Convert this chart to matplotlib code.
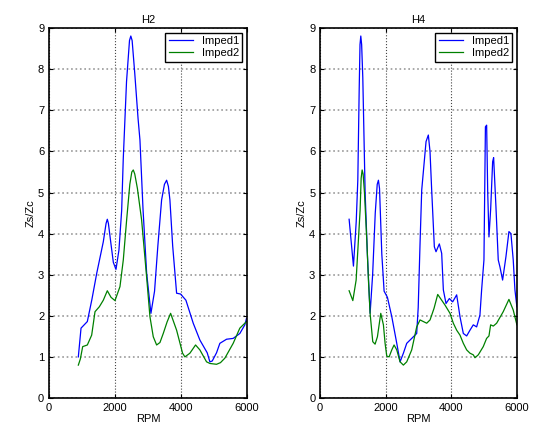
import numpy as np
import matplotlib.pyplot as plt

plt.rcParams['font.family'] = ['Liberation Sans', 'DejaVu Sans']

# H2 harmonic
h2_rpm1 = [888, 970, 1161, 1300, 1445, 1645, 1730, 1767, 1800, 1870, 1950, 2030, 2120, 2203,
           2250, 2350, 2440, 2480, 2520, 2600, 2700, 2757, 2850, 2960, 3090, 3200, 3300, 3414,
           3500, 3566, 3620, 3666, 3750, 3869, 3990, 4151, 4373, 4575, 4797, 4878, 4950, 5080,
           5181, 5384, 5585, 5787, 5939, 5990]
h2_imp1 = [1.00, 1.70, 1.86, 2.40, 3.03, 3.80, 4.25, 4.35, 4.25, 3.80, 3.30, 3.13, 3.60, 4.57,
           5.80, 7.70, 8.70, 8.81, 8.70, 7.90, 6.80, 6.28, 4.60, 3.04, 2.06, 2.60, 3.70, 4.82,
           5.20, 5.30, 5.15, 4.82, 3.70, 2.55, 2.53, 2.38, 1.82, 1.41, 1.10, 0.88, 0.90, 1.10,
           1.33, 1.43, 1.45, 1.57, 1.78, 1.94]
h2_rpm2 = [888, 950, 1020, 1161, 1293, 1394, 1525, 1646, 1767, 1880, 2000, 2151, 2252, 2353, 2450,
           2510, 2555, 2600, 2680, 2808, 2959, 3060, 3161, 3263, 3364, 3464, 3580, 3687, 3869,
           4050, 4121, 4272, 4444, 4575, 4777, 4880, 5080, 5200, 5333, 5585, 5787, 5990]
h2_imp2 = [0.80, 0.95, 1.25, 1.29, 1.53, 2.10, 2.22, 2.38, 2.61, 2.45, 2.37, 2.71, 3.36, 4.33, 5.20,
           5.50, 5.55, 5.45, 5.10, 4.33, 2.95, 1.98, 1.49, 1.29, 1.35, 1.57, 1.85, 2.06, 1.65,
           1.09, 1.00, 1.09, 1.29, 1.17, 0.88, 0.84, 0.82, 0.86, 0.97, 1.33, 1.70, 1.86]

# H4 harmonic
h4_rpm1 = [883, 1015, 1100, 1148, 1190, 1215, 1239, 1265, 1300, 1371, 1440, 1523, 1600, 1680,
           1740, 1777, 1810, 1880, 1950, 2051, 2184, 2336, 2437, 2538, 2640, 2792, 2944, 2990,
           3046, 3097, 3229, 3299, 3350, 3401, 3482, 3533, 3634, 3706, 3757, 3838, 3940, 4041,
           4163, 4264, 4366, 4468, 4569, 4670, 4772, 4873, 4924, 4995, 5040, 5077, 5110, 5148,
           5200, 5260, 5290, 5361, 5431, 5483, 5564, 5666, 5757, 5818, 5888, 5940, 6000]
h4_imp1 = [4.35, 3.21, 4.30, 5.30, 7.50, 8.60, 8.81, 8.60, 7.80, 5.00, 3.50, 2.06, 3.00, 4.50,
           5.20, 5.30, 5.10, 3.50, 2.60, 2.45, 1.98, 1.33, 0.88, 1.09, 1.33, 1.45, 1.57, 2.20,
           3.76, 5.06, 6.24, 6.40, 6.00, 5.06, 3.68, 3.56, 3.75, 3.52, 2.63, 2.30, 2.42, 2.34,
           2.51, 1.98, 1.57, 1.51, 1.65, 1.78, 1.73, 2.02, 2.63, 3.36, 6.60, 6.64, 5.00, 3.92,
           4.60, 5.75, 5.85, 4.65, 3.36, 3.19, 2.87, 3.44, 4.05, 4.00, 3.36, 2.63, 2.22]
h4_rpm2 = [883, 996, 1097, 1218, 1250, 1280, 1310, 1351, 1422, 1472, 1523, 1604, 1675, 1746, 1848,
           1929, 1980, 2031, 2102, 2184, 2254, 2336, 2437, 2538, 2640, 2792, 2944, 3046, 3147,
           3249, 3351, 3472, 3585, 3706, 3808, 3960, 4061, 4163, 4264, 4366, 4468, 4569, 4670,
           4721, 4822, 4974, 5076, 5148, 5199, 5280, 5382, 5583, 5757, 5888, 6000]
h4_imp2 = [2.61, 2.37, 2.87, 4.57, 5.35, 5.55, 5.45, 5.00, 3.84, 2.87, 2.06, 1.37, 1.31, 1.49,
           2.06, 1.78, 1.33, 1.02, 1.00, 1.17, 1.29, 1.17, 0.88, 0.80, 0.88, 1.17, 1.73, 1.90,
           1.86, 1.82, 1.90, 2.18, 2.52, 2.38, 2.26, 2.06, 1.82, 1.65, 1.53, 1.33, 1.17, 1.09,
           1.05, 0.98, 1.05, 1.25, 1.45, 1.51, 1.78, 1.75, 1.82, 2.10, 2.40, 2.14, 1.78]

fig = plt.figure(figsize=(5.39, 4.34), dpi=100)
ax1 = fig.add_axes([0.091, 0.083, 0.367, 0.852])
ax2 = fig.add_axes([0.594, 0.083, 0.365, 0.852])

panels = [(ax1, 'H2', h2_rpm1, h2_imp1, h2_rpm2, h2_imp2),
          (ax2, 'H4', h4_rpm1, h4_imp1, h4_rpm2, h4_imp2)]

for ax, title, r1, z1, r2, z2 in panels:
    ax.plot(r1, z1, color='#0000ff', lw=0.9, label='Imped1')
    ax.plot(r2, z2, color='#008000', lw=0.9, label='Imped2')
    ax.set_xlim(0, 6000)
    ax.set_ylim(0, 9)
    ax.set_xticks([0, 2000, 4000, 6000])
    ax.set_yticks(range(10))
    ax.tick_params(direction='in', top=True, right=True, labelsize=8, length=3)
    ax.xaxis.grid(True, color='#444444', linestyle=':', lw=0.8)
    ax.yaxis.grid(True, color='#999999', linestyle=':', lw=1.2)
    for s in ax.spines.values():
        s.set_linewidth(1.2)
    ax.set_title(title, fontsize=8, pad=4)
    ax.set_xlabel('RPM', fontsize=8, labelpad=1)
    ax.set_ylabel('Zs/Zc', fontsize=8, labelpad=2)
    leg = ax.legend(loc='upper right', fontsize=8, fancybox=False, framealpha=1,
                    borderpad=0.3, labelspacing=0.2, handlelength=2.2,
                    borderaxespad=0.4)
    leg.get_frame().set_edgecolor('black')
    leg.get_frame().set_linewidth(1.0)

fig.savefig('out.png', dpi=100)
